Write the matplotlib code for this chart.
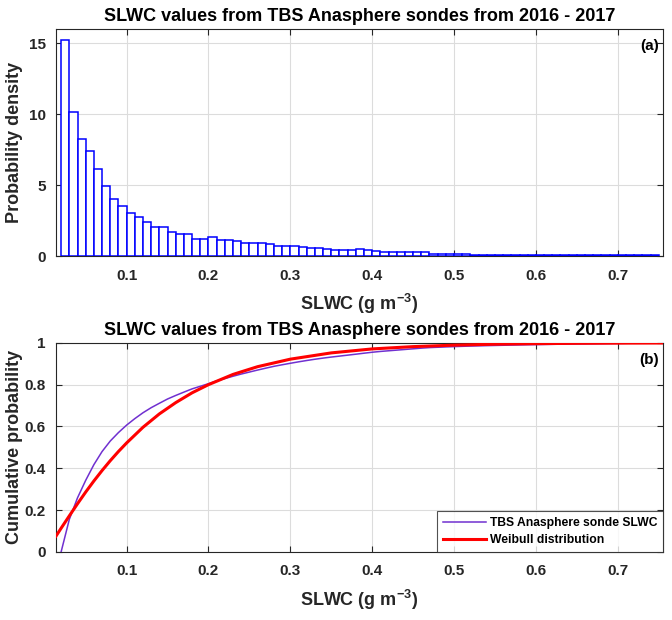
import numpy as np
import matplotlib
matplotlib.use("Agg")
import matplotlib.pyplot as plt

# ---- data ----
bin_start = 0.02
bin_width = 0.01
density = [15.26, 10.16, 8.24, 7.39, 6.17, 4.95, 3.99, 3.52, 3.05, 2.77,
           2.39, 2.07, 2.02, 1.67, 1.57, 1.53, 1.22, 1.22, 1.31, 1.10,
           1.10, 1.03, 0.94, 0.94, 0.89, 0.87, 0.73, 0.70, 0.68, 0.63,
           0.59, 0.54, 0.49, 0.45, 0.45, 0.45, 0.47, 0.45, 0.38, 0.31,
           0.31, 0.31, 0.31, 0.31, 0.26, 0.16, 0.16, 0.14, 0.14, 0.12,
           0.10, 0.10, 0.09, 0.09, 0.08, 0.08, 0.08, 0.07, 0.07, 0.07,
           0.06, 0.06, 0.06, 0.05, 0.05, 0.05, 0.05, 0.05, 0.05, 0.05,
           0.05, 0.05, 0.05]

weib_x = [0.0137, 0.02, 0.03, 0.04, 0.05, 0.06, 0.07, 0.08, 0.09, 0.10,
          0.12, 0.14, 0.16, 0.18, 0.20, 0.23, 0.26, 0.30, 0.35, 0.40,
          0.45, 0.50, 0.55, 0.60, 0.65, 0.70, 0.755]
weib_cdf = [0.075, 0.113, 0.172, 0.230, 0.286, 0.339, 0.389, 0.436, 0.480, 0.521,
            0.596, 0.660, 0.714, 0.761, 0.800, 0.849, 0.886, 0.922, 0.952, 0.971,
            0.982, 0.989, 0.9936, 0.9962, 0.9978, 0.9987, 0.9993]

title_text = "SLWC values from TBS Anasphere sondes from 2016 - 2017"
xlabel_text = r"SLWC (g m$^{\mathbf{-3}}$)"
xlim = (0.0137, 0.755)
xticks = [0.1, 0.2, 0.3, 0.4, 0.5, 0.6, 0.7]
xtick_labels = ['0.1', '0.2', '0.3', '0.4', '0.5', '0.6', '0.7']

# ---- style ----
plt.rcParams['font.family'] = ['Liberation Sans', 'DejaVu Sans']
plt.rcParams['font.weight'] = 'bold'
plt.rcParams['mathtext.fontset'] = 'custom'
plt.rcParams['mathtext.rm'] = 'Liberation Sans:bold'
plt.rcParams['mathtext.it'] = 'Liberation Sans:bold'
plt.rcParams['mathtext.bf'] = 'Liberation Sans:bold'
axcol = '#262626'

fig = plt.figure(figsize=(6.72, 6.2), dpi=100)
ax1 = fig.add_axes([0.0833, 0.587, 0.903, 0.366])
ax2 = fig.add_axes([0.0833, 0.110, 0.903, 0.337])

dens = np.array(density)
edges = bin_start + bin_width * np.arange(len(dens) + 1)
ax1.bar(edges[:-1], dens, width=bin_width, align='edge', facecolor='white',
        edgecolor='#0000FF', linewidth=1.1, zorder=3)
ax1.set_xlim(*xlim)
ax1.set_ylim(0, 16)
ax1.set_yticks([0, 5, 10, 15])
ax1.set_ylabel("Probability density", fontsize=13, fontweight='bold', color=axcol, labelpad=4)
ax1.set_xlabel(xlabel_text, fontsize=13, fontweight='bold', color=axcol, labelpad=7)
ax1.set_title(title_text, fontsize=13, fontweight='bold', color='black', pad=6)
ax1.text(0.993, 0.956, "(a)", transform=ax1.transAxes, ha='right', va='top',
         fontsize=11, fontweight='bold', color='black', zorder=5)

cdf = np.concatenate([[0.0], np.cumsum(dens)]) / dens.sum()
ax2.plot(edges, cdf, color='#7030D0', linewidth=1.1, label='TBS Anasphere sonde SLWC', zorder=3)
ax2.plot(weib_x, weib_cdf, color='#FF0000', linewidth=2.2, label='Weibull distribution', zorder=4)
ax2.set_xlim(*xlim)
ax2.set_ylim(0, 1)
ax2.set_yticks([0, 0.2, 0.4, 0.6, 0.8, 1])
ax2.set_yticklabels(['0', '0.2', '0.4', '0.6', '0.8', '1'])
ax2.set_ylabel("Cumulative probability", fontsize=13, fontweight='bold', color=axcol, labelpad=1)
ax2.set_xlabel(xlabel_text, fontsize=13, fontweight='bold', color=axcol, labelpad=7)
ax2.set_title(title_text, fontsize=13, fontweight='bold', color='black', pad=6)
ax2.text(0.993, 0.952, "(b)", transform=ax2.transAxes, ha='right', va='top',
         fontsize=11, fontweight='bold', color='black', zorder=5)
leg = ax2.legend(loc='lower right', fontsize=8.7, frameon=True, fancybox=False,
                 edgecolor=axcol, borderaxespad=0.0, handlelength=3.6,
                 borderpad=0.45, labelspacing=0.45, handletextpad=0.3)
leg.get_frame().set_linewidth(0.8)
for t in leg.get_texts():
    t.set_fontweight('bold')

for ax in (ax1, ax2):
    ax.set_xticks(xticks)
    ax.set_xticklabels(xtick_labels)
    ax.grid(True, color='#dcdcdc', linewidth=0.8, zorder=0)
    ax.set_axisbelow(True)
    ax.tick_params(direction='in', length=4, width=0.8, top=True, right=True,
                   colors=axcol, labelsize=11)
    ax.tick_params(axis='x', pad=9)
    ax.tick_params(axis='y', pad=7.5)
    for lab in ax.get_xticklabels() + ax.get_yticklabels():
        lab.set_fontweight('bold')
    for s in ax.spines.values():
        s.set_color(axcol)
        s.set_linewidth(0.8)

fig.savefig("out.png", dpi=100)
